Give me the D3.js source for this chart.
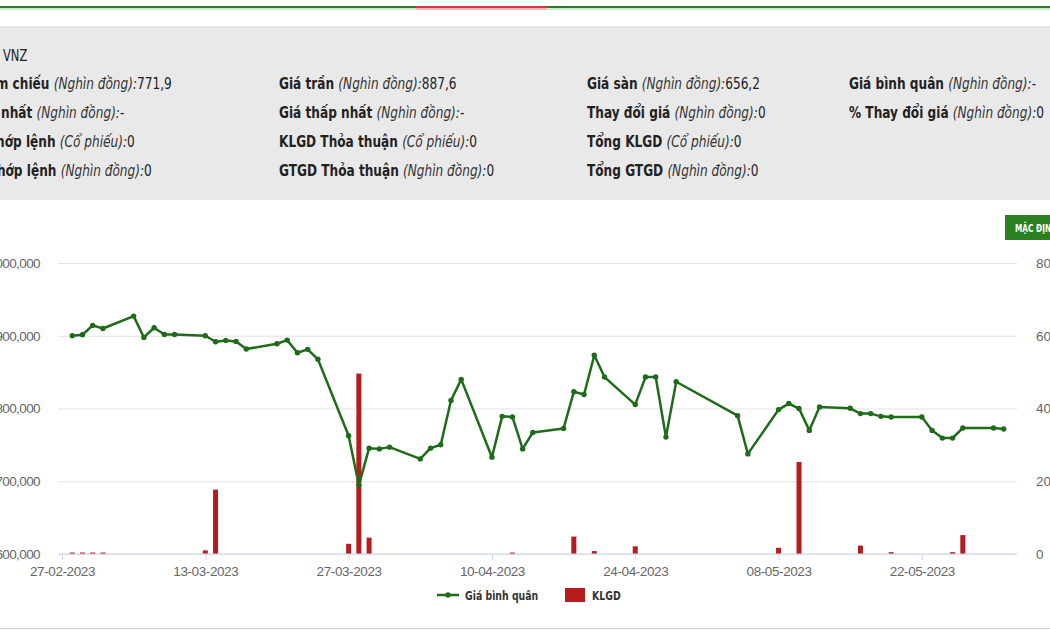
<!DOCTYPE html>
<html>
<head>
<meta charset="utf-8">
<script src="https://cdn.jsdelivr.net/npm/d3@7"></script>
<style>
  body { margin: 0; background: #fff; overflow: hidden; }
  svg { display: block; font-family: 'Liberation Sans Narrow', 'DejaVu Sans Condensed', 'Roboto Condensed', sans-serif; }
  .lbl { font-weight: bold; fill: #222; }
  .unit { font-style: italic; fill: #333; }
  .val { fill: #222; }
</style>
</head>
<body>
<div id="chart"></div>
<script>
// trading days and values
var dates = ['28-02-2023','01-03-2023','02-03-2023','03-03-2023','06-03-2023','07-03-2023','08-03-2023','09-03-2023','10-03-2023',
  '13-03-2023','14-03-2023','15-03-2023','16-03-2023','17-03-2023','20-03-2023','21-03-2023','22-03-2023','23-03-2023','24-03-2023',
  '27-03-2023','28-03-2023','29-03-2023','30-03-2023','31-03-2023','03-04-2023','04-04-2023','05-04-2023','06-04-2023','07-04-2023',
  '10-04-2023','11-04-2023','12-04-2023','13-04-2023','14-04-2023','17-04-2023','18-04-2023','19-04-2023','20-04-2023','21-04-2023',
  '24-04-2023','25-04-2023','26-04-2023','27-04-2023','28-04-2023','04-05-2023','05-05-2023','08-05-2023','09-05-2023','10-05-2023',
  '11-05-2023','12-05-2023','15-05-2023','16-05-2023','17-05-2023','18-05-2023','19-05-2023','22-05-2023','23-05-2023','24-05-2023',
  '25-05-2023','26-05-2023','29-05-2023','30-05-2023'];

var prices = [900000,901400,914200,910000,927000,897700,911000,901800,901800,
  900000,891800,893600,892200,881700,889000,894000,876700,881300,867600,
  762500,694700,745500,744500,746900,730700,745500,750100,811000,840000,
  733100,789200,788400,744500,767100,772600,823000,819200,873200,843200,
  805400,843200,843200,760700,836800,790200,737600,798500,806800,799900,
  769900,802200,800300,793000,793000,789200,788400,788400,769900,759300,
  759300,773200,773200,771900];

var volumes = [0.4,0.4,0.4,0.4,0,0,0,0,0,
  1.0,17.7,0,0,0,0,0,0,0,0,
  2.8,49.6,4.5,0,0,0,0,0,0,0,
  0,0,0.4,0,0,0,4.8,0,0.8,0,
  2.1,0,0,0,0,0,0,1.7,0,25.3,
  0,0,0,2.3,0,0,0.5,0,0,0,
  0.5,5.2,0,0];

var xTicks = ['27-02-2023','13-03-2023','27-03-2023','10-04-2023','24-04-2023','08-05-2023','22-05-2023'];
var priceTicks = [600000,700000,800000,900000,1000000];
var volTicks = [0,20,40,60,80];

var ticker = 'VNZ';
var infoCols = [
  [['Giá tham chiếu','(Nghìn đồng):','771,9'],['Giá cao nhất','(Nghìn đồng):','-'],['KLGD khớp lệnh','(Cổ phiếu):','0'],['GTGD khớp lệnh','(Nghìn đồng):','0']],
  [['Giá trần','(Nghìn đồng):','887,6'],['Giá thấp nhất','(Nghìn đồng):','-'],['KLGD Thỏa thuận','(Cổ phiếu):','0'],['GTGD Thỏa thuận','(Nghìn đồng):','0']],
  [['Giá sàn','(Nghìn đồng):','656,2'],['Thay đổi giá','(Nghìn đồng):','0'],['Tổng KLGD','(Cổ phiếu):','0'],['Tổng GTGD','(Nghìn đồng):','0']],
  [['Giá bình quân','(Nghìn đồng):','-'],['% Thay đổi giá','(Nghìn đồng):','0']]
];

var W = 1050, H = 630;
var parse = d3.timeParse('%d-%m-%Y');
var fmt = d3.timeFormat('%d-%m-%Y');

// condensed look: squeeze text horizontally around its anchor
function squeeze(sel, k) {
  sel.each(function() {
    var t = d3.select(this);
    var tx = +t.attr('x') || 0, ty = +t.attr('y') || 0;
    t.attr('x', 0).attr('y', 0)
      .attr('transform', 'translate(' + tx + ',' + ty + ') scale(' + k + ',1)');
  });
}

var svg = d3.select('#chart').append('svg')
    .attr('width', W)
    .attr('height', H);

// top tab bar
svg.append('rect').attr('x', 0).attr('y', 6).attr('width', W).attr('height', 2).attr('fill', '#2b7a2b');
svg.append('rect').attr('x', 0).attr('y', 8).attr('width', W).attr('height', 2).attr('fill', '#c9efc6');
svg.append('rect').attr('x', 416).attr('y', 6).attr('width', 131).attr('height', 2).attr('fill', '#d23b3b');
svg.append('rect').attr('x', 416).attr('y', 8).attr('width', 131).attr('height', 2).attr('fill', '#f2b5b5');

// info panel
svg.append('rect').attr('x', 0).attr('y', 27).attr('width', W).attr('height', 173).attr('fill', '#e9e9e9');
svg.append('line').attr('x1', 0).attr('x2', W).attr('y1', 27).attr('y2', 27).attr('stroke', '#d4d4d4');

svg.append('text').attr('class', 'val').attr('x', 3).attr('y', 61).style('font-size', '15px').text(ticker)
  .call(squeeze, 0.85);

var colX = [null, 279, 587, 849];
var rowY = [89, 118, 147, 176];
var K = 0.9;

infoCols.forEach(function(col, ci) {
  var g = svg.append('g');
  var texts = col.map(function(r, ri) {
    var t = g.append('text').attr('y', rowY[ri]).style('font-size', '15px');
    t.append('tspan').attr('class', 'lbl').text(r[0] + ' ');
    t.append('tspan').attr('class', 'unit').text(r[1]);
    t.append('tspan').attr('class', 'val').text(r[2]);
    return t;
  });
  var x0 = colX[ci];
  if (x0 === null) {
    // first column is cut by the left edge: place so "m chiếu" starts at 0
    var full = texts[0].select('.lbl').node().getComputedTextLength();
    var tmp = g.append('text').style('font-size', '15px').attr('class', 'lbl').text('m chiếu ');
    var vis = tmp.node().getComputedTextLength();
    tmp.remove();
    x0 = -(full - vis) * K;
  }
  texts.forEach(function(t) { t.attr('x', x0).call(squeeze, K); });
});

// chart
var x = d3.scaleTime()
    .domain([parse('27-02-2023'), parse('31-05-2023')])
    .range([62, 1014]);
var yP = d3.scaleLinear().domain([600000, 1000000]).range([554, 263]);
var yV = d3.scaleLinear().domain([0, 80]).range([554, 263]);
var plotL = 58, plotR = 1017;

var yAxisL = svg.append('g')
    .attr('transform', 'translate(' + plotL + ',0)')
    .call(d3.axisLeft(yP).tickValues(priceTicks).tickSize(-(plotR - plotL)).tickPadding(18)
      .tickFormat(d3.format(',')));
yAxisL.select('.domain').remove();
yAxisL.selectAll('line').attr('stroke', '#e3e3e3');
yAxisL.selectAll('text').attr('fill', '#666').style('font-size', '13.5px').style('letter-spacing', '-0.6px');

var yAxisR = svg.append('g')
    .attr('transform', 'translate(' + plotR + ',0)')
    .call(d3.axisRight(yV).tickValues(volTicks).tickSize(0).tickPadding(19));
yAxisR.select('.domain').remove();
yAxisR.selectAll('text').attr('fill', '#666').style('font-size', '13.5px');

// volume bars
svg.append('g').selectAll('rect')
    .data(dates.map(function(d, i) { return {date: parse(d), v: volumes[i]}; }).filter(function(d) { return d.v > 0; }))
    .enter().append('rect')
    .attr('x', function(d) { return x(d.date) - 2.5; })
    .attr('width', 5)
    .attr('y', function(d) { return yV(d.v); })
    .attr('height', function(d) { return yV(0) - yV(d.v); })
    .attr('fill', '#b71c1c');

var xAxis = svg.append('g')
    .attr('transform', 'translate(0,554)')
    .call(d3.axisBottom(x).tickValues(xTicks.map(parse)).tickFormat(fmt).tickSize(6).tickPadding(6));
xAxis.select('.domain').attr('d', 'M' + plotL + ',0H' + plotR).attr('stroke', '#ccd6eb');
xAxis.selectAll('line').attr('stroke', '#ccd6eb');
xAxis.selectAll('text').attr('fill', '#666').style('font-size', '13.5px').style('letter-spacing', '-0.4px');

// price line
var pts = dates.map(function(d, i) { return {date: parse(d), p: prices[i]}; });
svg.append('path')
    .datum(pts)
    .attr('fill', 'none')
    .attr('stroke', '#1e6b1a')
    .attr('stroke-width', 2.5)
    .attr('stroke-linejoin', 'round')
    .attr('d', d3.line().x(function(d) { return x(d.date); }).y(function(d) { return yP(d.p); }));
svg.append('g').selectAll('circle')
    .data(pts)
    .enter().append('circle')
    .attr('cx', function(d) { return x(d.date); })
    .attr('cy', function(d) { return yP(d.p); })
    .attr('r', 2.7)
    .attr('fill', '#1e6b1a');

// reset button
svg.append('rect').attr('x', 1005).attr('y', 215).attr('width', 50).attr('height', 25).attr('fill', '#2a7f1e');
svg.append('text').attr('x', 1015).attr('y', 232).attr('fill', '#fff')
    .style('font-size', '10.5px').style('font-weight', 'bold').text('MẶC ĐỊNH')
    .call(squeeze, 0.78);

// legend
var leg = svg.append('g').style('font-size', '13px').style('font-weight', 'bold');
leg.append('line').attr('x1', 437).attr('x2', 459).attr('y1', 595).attr('y2', 595)
    .attr('stroke', '#1e6b1a').attr('stroke-width', 2.5);
leg.append('circle').attr('cx', 448).attr('cy', 595).attr('r', 2.7).attr('fill', '#1e6b1a');
leg.append('text').attr('x', 465).attr('y', 600).attr('fill', '#333').text('Giá bình quân').call(squeeze, 0.8);
leg.append('rect').attr('x', 565).attr('y', 588).attr('width', 20).attr('height', 14).attr('fill', '#b71c1c');
leg.append('text').attr('x', 592).attr('y', 600).attr('fill', '#333').text('KLGD').call(squeeze, 0.8);

svg.append('line').attr('x1', 0).attr('x2', W).attr('y1', 628.5).attr('y2', 628.5).attr('stroke', '#cfcfcf');
</script>
</body>
</html>
